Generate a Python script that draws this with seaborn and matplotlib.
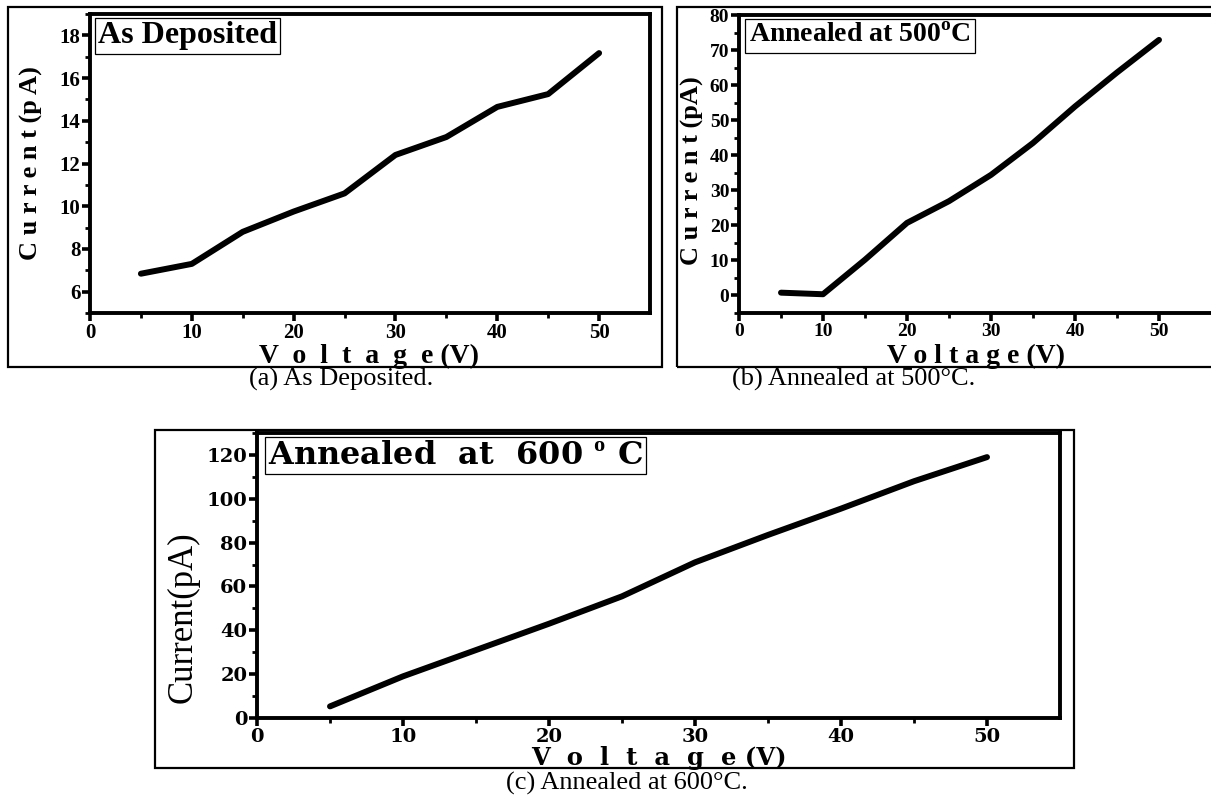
import matplotlib
matplotlib.use("Agg")
import matplotlib.pyplot as plt
import seaborn as sns
from matplotlib.patches import Rectangle

# ---------------- data ----------------
voltage = [5, 10, 15, 20, 25, 30, 35, 40, 45, 50]
current_dep = [6.84, 7.3, 8.8, 9.75, 10.6, 12.4, 13.24, 14.65, 15.25, 17.17]
current_500 = [0.8, 0.35, 10.2, 20.7, 26.9, 34.4, 43.5, 53.9, 63.6, 72.9]
current_600 = [5.3, 19.0, 31.0, 43.0, 55.5, 71.0, 83.5, 95.5, 108.0, 119.0]

xticks_major = [0, 10, 20, 30, 40, 50]
xticks_minor = [5, 15, 25, 35, 45]
yt_dep_major = [6, 8, 10, 12, 14, 16, 18]
yt_dep_minor = [5, 7, 9, 11, 13, 15, 17, 19]
yt_500_major = [0, 10, 20, 30, 40, 50, 60, 70, 80]
yt_500_minor = [-5, 5, 15, 25, 35, 45, 55, 65, 75]
yt_600_major = [0, 20, 40, 60, 80, 100, 120]
yt_600_minor = [10, 30, 50, 70, 90, 110, 130]

title_dep = "As Deposited"
title_500 = r"Annealed at 500$^{\mathbf{o}}$C"
title_600 = r"Annealed  at  600 $^{\mathbf{o}}$ C"
cap_a = "(a) As Deposited."
cap_b = "(b) Annealed at 500°C."
cap_c = "(c) Annealed at 600°C."

# ---------------- style ----------------
sns.set_style("ticks")
plt.rcParams["font.family"] = ["Liberation Serif", "DejaVu Serif"]
plt.rcParams["font.weight"] = "bold"
plt.rcParams["text.color"] = "black"
plt.rcParams["axes.labelcolor"] = "black"
plt.rcParams["xtick.color"] = "black"
plt.rcParams["ytick.color"] = "black"
plt.rcParams["axes.edgecolor"] = "black"
plt.rcParams["mathtext.fontset"] = "custom"
plt.rcParams["mathtext.bf"] = "Liberation Serif:bold"
plt.rcParams["mathtext.rm"] = "Liberation Serif:bold"

W, H = 1211, 795
fig = plt.figure(figsize=(W / 100, H / 100), dpi=100)
fig.patch.set_facecolor("white")


def px_axes(l, t, r, b):
    return fig.add_axes([l / W, 1 - b / H, (r - l) / W, (b - t) / H])


def frame(l, t, r, b):
    fig.add_artist(Rectangle((l / W, 1 - b / H), (r - l) / W, (b - t) / H,
                             transform=fig.transFigure, fill=False,
                             ec="black", lw=1.6, zorder=5))


def style_axes(ax, xmaj, xmin, ymaj, ymin, labelsize, fam):
    for s in ax.spines.values():
        s.set_visible(True)
        s.set_linewidth(2.8)
        s.set_color("black")
    ax.set_xticks(xmaj)
    ax.set_xticks(xmin, minor=True)
    ax.set_yticks(ymaj)
    ax.set_yticks(ymin, minor=True)
    ax.tick_params(which="major", direction="out", length=6, width=2.6,
                   labelsize=labelsize, pad=1.0, colors="black")
    ax.tick_params(which="minor", direction="out", length=3.5, width=2.0)
    ax.tick_params(top=False, right=False, which="both")
    for lbl in ax.get_xticklabels() + ax.get_yticklabels():
        lbl.set_fontfamily(fam)
        lbl.set_fontweight("bold")
        lbl.set_color("black")
    ax.grid(False)


# ---------------- panel (a) ----------------
frame(8, 7, 662, 367)
ax1 = px_axes(90, 14, 650, 313)
sns.lineplot(x=voltage, y=current_dep, ax=ax1, color="black", lw=4.3)
ax1.set_xlim(0, 55)
ax1.set_ylim(5, 19)
style_axes(ax1, xticks_major, xticks_minor, yt_dep_major, yt_dep_minor, 15,
           "Liberation Serif")
ax1.set_xlabel("V  o  l  t  a  g  e (V)", fontsize=20, fontweight="bold",
               family="Liberation Serif")
ax1.xaxis.set_label_coords(0.498, -0.104)
ax1.set_ylabel("C u r r e n t (p A)", fontsize=19, fontweight="bold",
               family="Liberation Serif")
ax1.yaxis.set_label_coords(-0.084, 0.5)
ax1.text(0.014, 0.975, title_dep, transform=ax1.transAxes, ha="left",
         va="top", fontsize=23, fontweight="bold", family="Liberation Serif",
         bbox=dict(boxstyle="square,pad=0.1", fc="white", ec="black", lw=0.9))

# ---------------- panel (b) ----------------
frame(677, 7, 1240, 367)
ax2 = px_axes(739, 15, 1243, 313)
sns.lineplot(x=voltage, y=current_500, ax=ax2, color="black", lw=4.3)
ax2.set_xlim(0, 60)
ax2.set_ylim(-5, 80)
style_axes(ax2, xticks_major, xticks_minor, yt_500_major, yt_500_minor, 14,
           "Liberation Serif")
ax2.set_xlabel("V o l t a g e (V)", fontsize=20, fontweight="bold",
               family="Liberation Serif")
ax2.xaxis.set_label_coords(0.47, -0.104)
ax2.set_ylabel("C u r r e n t (pA)", fontsize=19, fontweight="bold",
               family="Liberation Serif")
ax2.yaxis.set_label_coords(-0.069, 0.477)
ax2.text(0.02, 0.972, title_500, transform=ax2.transAxes, ha="left",
         va="top", fontsize=20, fontweight="bold", family="Liberation Serif",
         bbox=dict(boxstyle="square,pad=0.15", fc="white", ec="black", lw=0.9))

# ---------------- panel (c) ----------------
frame(155, 430, 1074, 768)
ax3 = px_axes(257, 433, 1060, 718)
sns.lineplot(x=voltage, y=current_600, ax=ax3, color="black", lw=4.3)
ax3.set_xlim(0, 55)
ax3.set_ylim(0, 130)
style_axes(ax3, xticks_major, xticks_minor, yt_600_major, yt_600_minor, 14,
           "DejaVu Serif")
ax3.set_xlabel("V  o  l  t  a  g  e (V)", fontsize=17.5, fontweight="bold",
               family="DejaVu Serif")
ax3.xaxis.set_label_coords(0.50, -0.097)
ax3.set_ylabel("Current(pA)", fontsize=25, fontweight="normal",
               family="Liberation Serif")
ax3.yaxis.set_label_coords(-0.071, 0.354)
ax3.text(0.014, 0.975, title_600, transform=ax3.transAxes, ha="left",
         va="top", fontsize=23, fontweight="bold", family="DejaVu Serif",
         bbox=dict(boxstyle="square,pad=0.1", fc="white", ec="black", lw=0.9))

# ---------------- captions ----------------
cap_kw = dict(ha="center", va="center", fontsize=19, fontweight="normal",
              family="Liberation Serif", color="black")
fig.text(341 / W, 1 - 379 / H, cap_a, **cap_kw)
fig.text(854 / W, 1 - 379 / H, cap_b, **cap_kw)
fig.text(627 / W, 1 - 783 / H, cap_c, **cap_kw)

fig.savefig("out.png", dpi=100, facecolor="white")
